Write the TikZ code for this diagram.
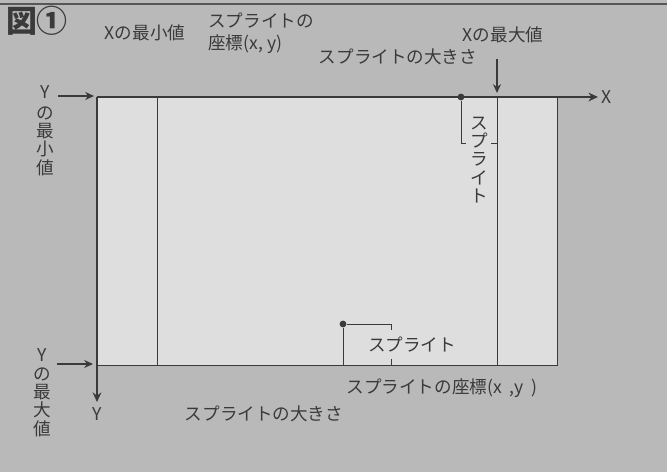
\documentclass[tikz,border=0pt]{standalone}
\usepackage{fontspec}
\newfontfamily\jpfont{Noto Sans CJK JP}
\usetikzlibrary{arrows.meta}

\definecolor{bggray}{HTML}{B9B9B9}
\definecolor{panel}{HTML}{DEDEDE}
\definecolor{ink}{HTML}{3A3A3A}

\begin{document}
\begin{tikzpicture}
[x=0.025cm, y=-0.025cm, font=\jpfont\fontsize{12.5}{13}\selectfont, text=ink]

\tikzstyle{edge}=[draw=ink, line width=0.6pt]
\tikzstyle{axis}=[draw=ink, line width=0.9pt, -{Stealth[length=2.4mm, width=2.2mm]}]
\tikzstyle{pointer}=[draw=ink, line width=0.9pt, -{Stealth[length=2.2mm, width=2mm]}]
\tikzstyle{dot}=[circle, fill=ink, inner sep=0mm, minimum size=1.7mm]
\tikzstyle{txt}=[inner sep=0mm]
\tikzstyle{vtxt}=[inner sep=0mm, align=center]

\fill[bggray] (0,0) rectangle (667,472);
\useasboundingbox (0,0) rectangle (667,472);
\draw[ink!85, line width=1pt] (0,4) -- (667,4);

% screen
\fill[panel] (97,97) rectangle (557,365);
\coordinate (TL) at (97,97);
\coordinate (TR) at (557,97);
\coordinate (BR) at (557,365);
\coordinate (BL) at (97,365);
\coordinate (A1) at (157,97);
\coordinate (A2) at (157,365);
\coordinate (B1) at (497,97);
\coordinate (B2) at (497,365);
\coordinate (XE) at (598,97);
\coordinate (YE) at (97,402);

\draw [edge] (TR)--(BR)--(BL);
\draw [edge] (A1)--(A2);
\draw [edge] (B1)--(B2);
\draw [axis] (TL)--(XE);
\draw [axis] (TL)--(YE);

\node[txt]	(X)	at (607,97)	{X};
\node[txt]	(Y)	at (97,414)	{Y};

% top sprite
\node[dot]	(S1)	at (461,97)	{};
\coordinate (S1a) at (461,143);
\coordinate (S1b) at (466,143);
\coordinate (S1c) at (491,143);
\coordinate (S1d) at (497,143);
\draw [edge] (S1)--(S1a)--(S1b);
\draw [edge] (S1c)--(S1d);
\node[vtxt]	(spr1)	at (479,160)	{ス\\プ\\ラ\\イ\\ト};

% bottom sprite
\node[dot]	(S2)	at (343,324)	{};
\coordinate (S2a) at (391,324);
\coordinate (S2b) at (391,330);
\coordinate (S2c) at (343,365);
\coordinate (S2d) at (391,359);
\coordinate (S2e) at (391,365);
\draw [edge] (S2c)--(S2)--(S2a)--(S2b);
\draw [edge] (S2d)--(S2e);
\node[txt]	(spr2)	at (412,345)	{スプライト};

% labels
\node[txt, font=\jpfont\bfseries\fontsize{22}{24}\selectfont]	(fig)	at (37,21)	{図①};
\node[txt]	(xmin)	at (145,33)	{Xの最小値};
\node[txt, align=left, anchor=west, font=\jpfont\fontsize{12.5}{15.5}\selectfont]	(pos1)	at (208,33)	{スプライトの\\座標(x, y)};
\node[txt]	(xmax)	at (503,35)	{Xの最大値};
\node[txt]	(size1)	at (398,57)	{スプライトの大きさ};
\coordinate (xmaxa) at (497,59);
\coordinate (xmaxb) at (497,93);
\draw [pointer] (xmaxa)--(xmaxb);

\node[txt]	(ymin)	at (45,92)	{Y};
\node[vtxt]	(ymint)	at (45,141)	{の\\最\\小\\値};
\coordinate (ymina) at (58,96);
\coordinate (yminb) at (94,96);
\draw [pointer] (ymina)--(yminb);

\node[txt]	(ymax)	at (42,355)	{Y};
\node[vtxt]	(ymaxt)	at (42,402)	{の\\最\\大\\値};
\coordinate (ymaxa) at (57,364);
\coordinate (ymaxb) at (93,364);
\draw [pointer] (ymaxa)--(ymaxb);

\node[txt]	(size2)	at (264,414)	{スプライトの大きさ};
\node[txt]	(pos2)	at (442,388)	{スプライトの座標(x\ \ ,y\ \ )};
\end{tikzpicture}
\end{document}
